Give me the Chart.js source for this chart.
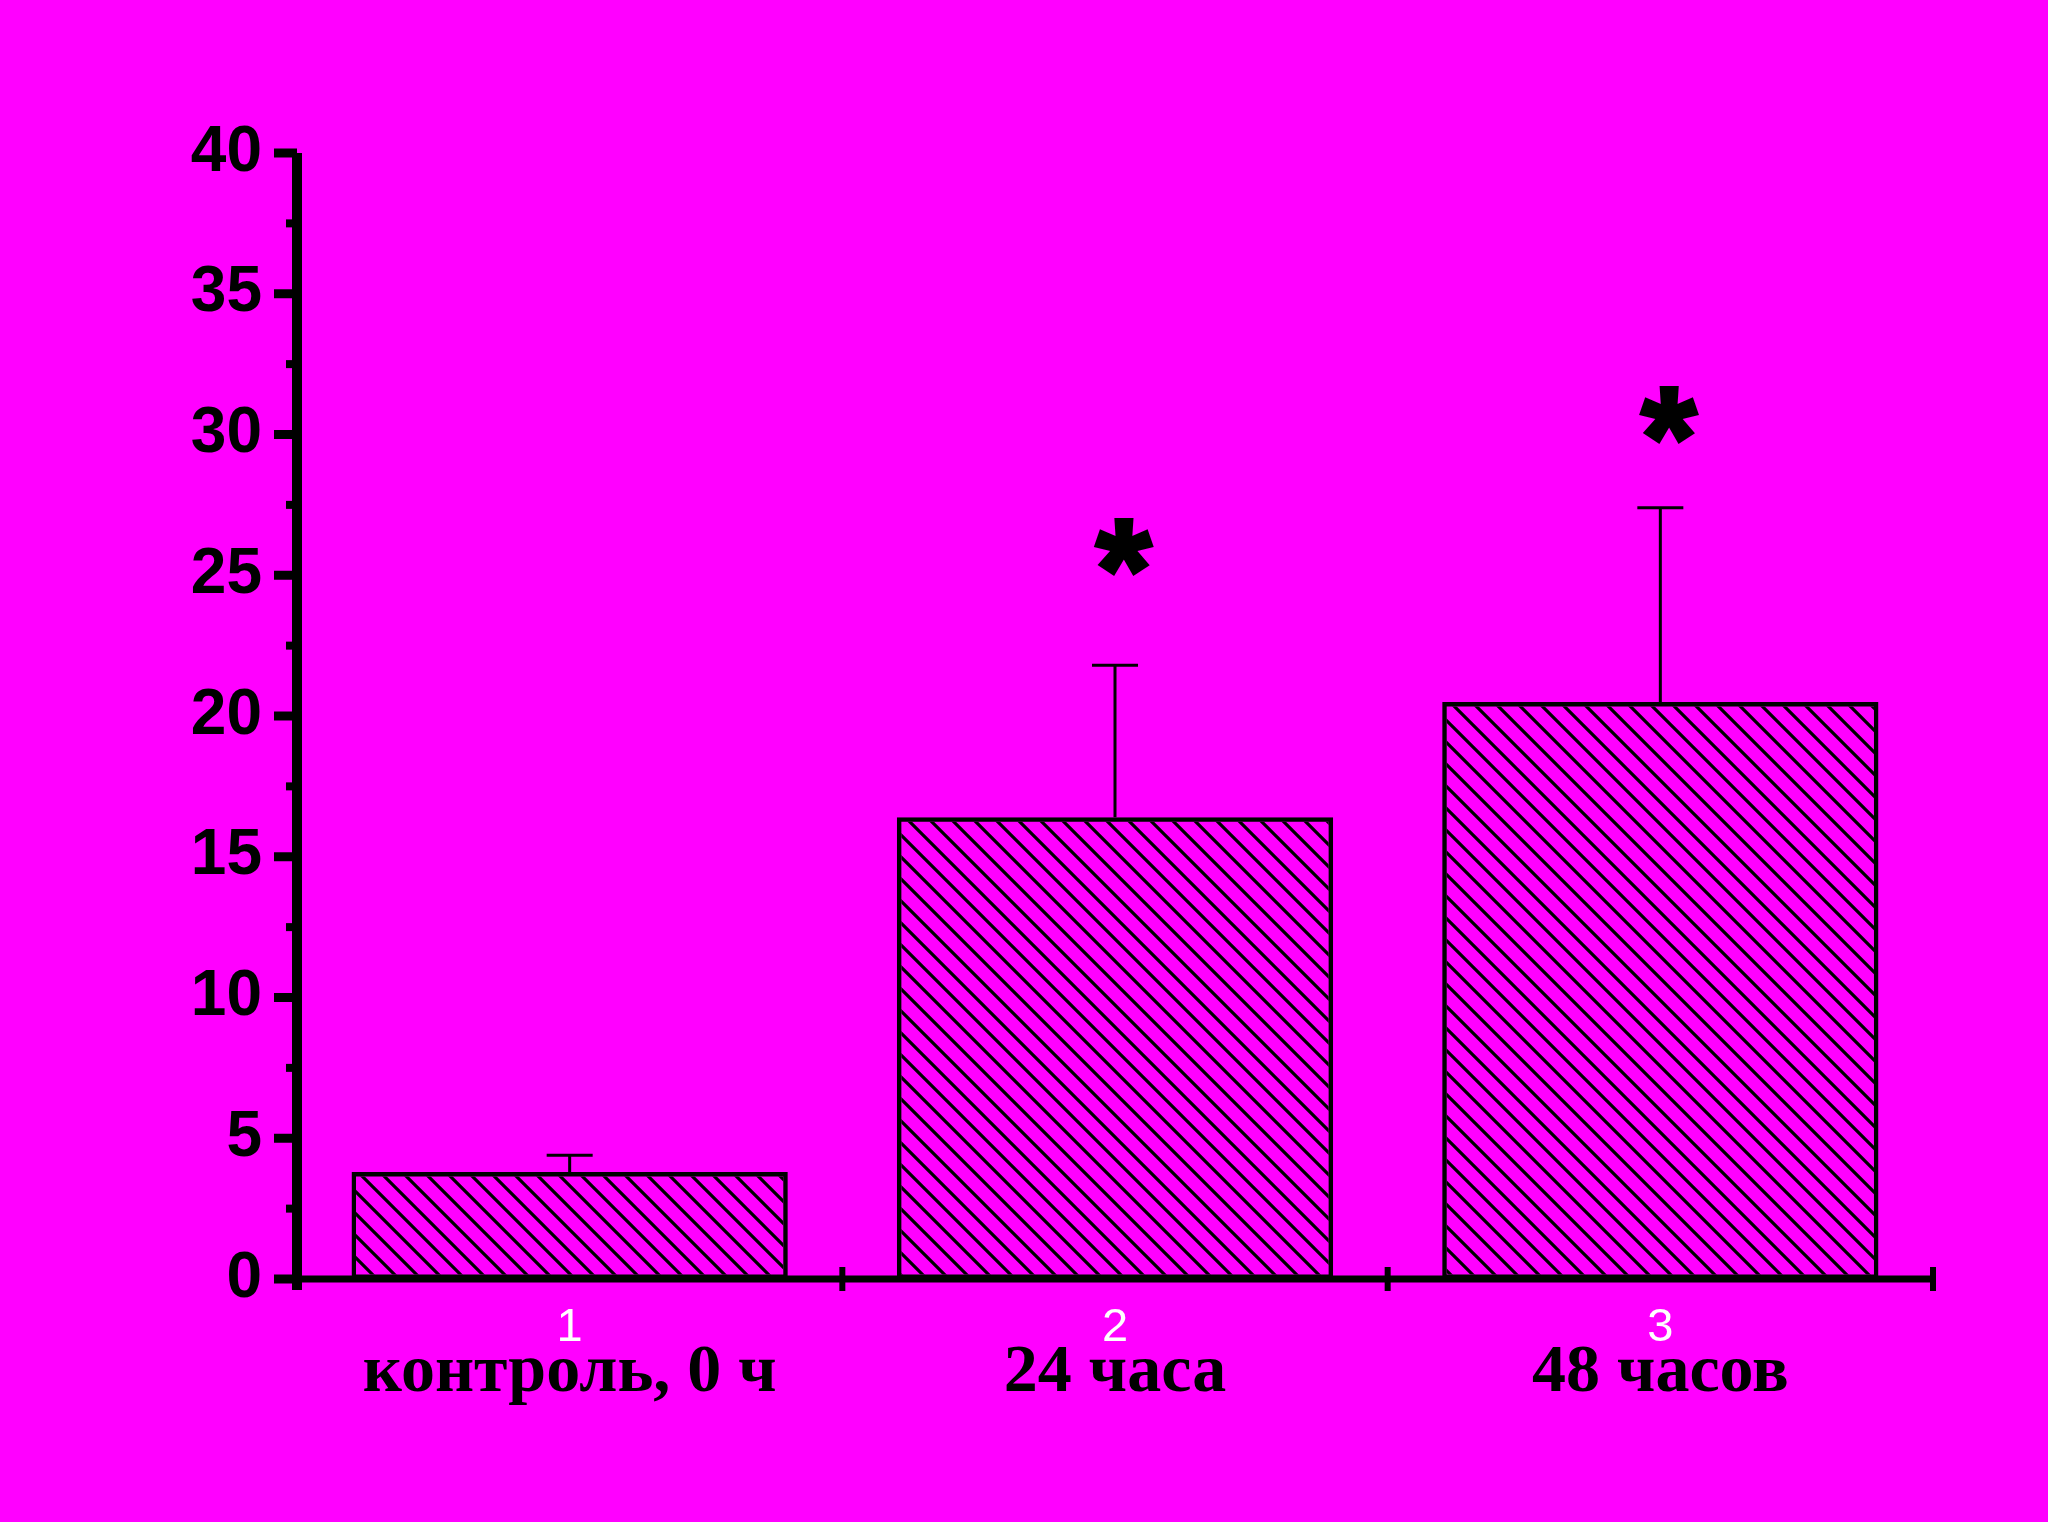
<!DOCTYPE html>
<html>
<head>
<meta charset="utf-8">
<script src="https://cdn.jsdelivr.net/npm/chart.js@4.4.0/dist/chart.umd.min.js"></script>
<style>
    html, body { margin: 0; padding: 0; background: #ff00ff; }
    canvas { display: block; }
</style>
</head>
<body>
<canvas id="grafico" width="2048" height="1522"></canvas>
<script>
const numeros = ['1', '2', '3'];
const categorias = ['контроль, 0 ч', '24 часа', '48 часов'];
const medias = [3.8, 16.4, 20.5];
const erros = [0.6, 5.4, 6.9];
const asteriscos = [null, 26.0, 30.7];
const ticksY = [0, 5, 10, 15, 20, 25, 30, 35, 40];

function criaHachura() {
    const s = 22;
    const c = document.createElement('canvas');
    c.width = s;
    c.height = s;
    const g = c.getContext('2d');
    g.strokeStyle = '#000';
    g.lineWidth = 3.2;
    g.beginPath();
    for (let k = -1; k <= 1; k++) {
        g.moveTo(-s, -s + k * s);
        g.lineTo(2 * s, 2 * s + k * s);
    }
    g.stroke();
    return g.createPattern(c, 'repeat');
}

const eixos = {
    id: 'eixos',
    beforeDraw(chart) {
        const ctx = chart.ctx;
        ctx.save();
        ctx.fillStyle = '#ff00ff';
        ctx.fillRect(0, 0, chart.width, chart.height);
        ctx.restore();
    },
    afterDatasetsDraw(chart) {
        const ctx = chart.ctx;
        const area = chart.chartArea;
        const x = chart.scales.x;
        const y = chart.scales.y;
        ctx.save();
        ctx.strokeStyle = '#000';
        ctx.fillStyle = '#000';
        ctx.lineCap = 'butt';

        // barras de erro
        const meta = chart.getDatasetMeta(0);
        meta.data.forEach((barra, i) => {
            const topo = y.getPixelForValue(medias[i] + erros[i]);
            ctx.lineWidth = 3;
            ctx.beginPath();
            ctx.moveTo(barra.x, barra.y);
            ctx.lineTo(barra.x, topo);
            ctx.moveTo(barra.x - 23, topo);
            ctx.lineTo(barra.x + 23, topo);
            ctx.stroke();
        });

        // eixo y
        ctx.lineWidth = 10;
        ctx.beginPath();
        ctx.moveTo(area.left, area.top);
        ctx.lineTo(area.left, area.bottom + 11);
        ctx.stroke();
        const passo = ticksY[1] - ticksY[0];
        ticksY.forEach((v, i) => {
            const py = y.getPixelForValue(v);
            ctx.lineWidth = 9;
            ctx.beginPath();
            ctx.moveTo(area.left - 23, py);
            ctx.lineTo(area.left, py);
            ctx.stroke();
            if (i < ticksY.length - 1) {
                const pm = y.getPixelForValue(v + passo / 2);
                ctx.lineWidth = 8;
                ctx.beginPath();
                ctx.moveTo(area.left - 11, pm);
                ctx.lineTo(area.left, pm);
                ctx.stroke();
            }
        });

        // eixo x
        ctx.lineWidth = 7;
        ctx.beginPath();
        ctx.moveTo(area.left, area.bottom);
        ctx.lineTo(area.right, area.bottom);
        ctx.stroke();
        ctx.lineWidth = 6;
        for (let i = 0; i < numeros.length; i++) {
            const px = x.getPixelForValue(i + 0.5);
            ctx.beginPath();
            ctx.moveTo(px, area.bottom - 12);
            ctx.lineTo(px, area.bottom + 12);
            ctx.stroke();
        }

        // asteriscos
        ctx.font = 'bold 100px "Liberation Sans"';
        const m0 = ctx.measureText('*');
        const tam = 100 * 54 / (m0.actualBoundingBoxAscent + m0.actualBoundingBoxDescent);
        ctx.font = 'bold ' + tam + 'px "Liberation Sans"';
        ctx.textAlign = 'left';
        ctx.textBaseline = 'alphabetic';
        ctx.lineWidth = 4;
        const m = ctx.measureText('*');
        meta.data.forEach((barra, i) => {
            if (asteriscos[i] === null) return;
            const cy = y.getPixelForValue(asteriscos[i]);
            const cx = barra.x + 9;
            const tx = cx - (m.actualBoundingBoxRight - m.actualBoundingBoxLeft) / 2;
            const ty = cy + (m.actualBoundingBoxAscent - m.actualBoundingBoxDescent) / 2;
            ctx.fillText('*', tx, ty);
            ctx.strokeText('*', tx, ty);
        });
        ctx.restore();
    }
};

const ctx = document.getElementById('grafico').getContext('2d');

new Chart(ctx, {
    type: 'bar',
    data: {
        labels: numeros,
        datasets: [{
            data: medias,
            backgroundColor: criaHachura(),
            borderColor: '#000',
            borderWidth: 4.5,
            borderSkipped: false,
            categoryPercentage: 0.8,
            barPercentage: 1
        }]
    },
    options: {
        responsive: false,
        animation: false,
        layout: { padding: { top: 153, right: 115, bottom: 81, left: 0 } },
        plugins: {
            legend: { display: false },
            tooltip: { enabled: false }
        },
        scales: {
            x: {
                type: 'category',
                position: 'bottom',
                weight: 0,
                offset: true,
                grid: { display: false },
                border: { display: false },
                ticks: {
                    color: '#fff',
                    font: { family: 'Liberation Sans', size: 47 },
                    padding: 13,
                    maxRotation: 0,
                    autoSkip: false
                },
                afterFit(s) { s.height = 62; }
            },
            x2: {
                type: 'category',
                position: 'bottom',
                weight: 1,
                labels: categorias,
                offset: true,
                grid: { display: false },
                border: { display: false },
                ticks: {
                    color: '#000',
                    font: { family: 'Liberation Serif', size: 68, weight: 'bold' },
                    padding: -16,
                    maxRotation: 0,
                    autoSkip: false
                },
                afterFit(s) { s.height = 100; }
            },
            y: {
                min: ticksY[0],
                max: ticksY[ticksY.length - 1],
                grid: { display: false },
                border: { display: false },
                ticks: {
                    stepSize: ticksY[1] - ticksY[0],
                    color: '#000',
                    font: { family: 'Liberation Sans', size: 64, weight: 'bold' },
                    padding: 27
                },
                afterFit(s) { s.width = 297; }
            }
        }
    },
    plugins: [eixos]
});
</script>
</body>
</html>
